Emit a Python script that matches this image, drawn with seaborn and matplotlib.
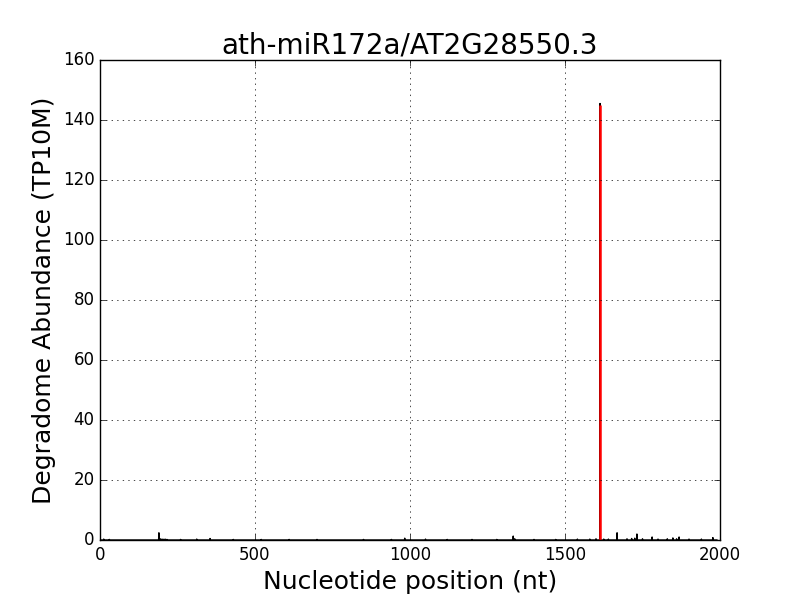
import numpy as np
import pandas as pd
import seaborn as sns
import matplotlib
matplotlib.use("Agg")
import matplotlib.pyplot as plt

# degradome reads along the transcript (positions with reads, TP10M)
transcript_length = 1990
read_positions = [12, 30, 190, 196, 203, 210, 216, 260, 312, 355, 430, 520, 610, 700,
                  850, 940, 983, 1050, 1120, 1200, 1280, 1333, 1338, 1400, 1470, 1540,
                  1580, 1600, 1625, 1640, 1668, 1700, 1715, 1725, 1732, 1750, 1781,
                  1800, 1830, 1848, 1860, 1868, 1900, 1940, 1977]
read_values = [0.3, 0.2, 2.4, 0.4, 0.3, 0.3, 0.2, 0.2, 0.3, 0.5, 0.2, 0.2, 0.2, 0.2,
               0.2, 0.2, 0.6, 0.3, 0.2, 0.2, 0.2, 1.3, 0.4, 0.2, 0.2, 0.3,
               0.3, 0.4, 0.3, 0.3, 2.4, 0.4, 0.5, 0.6, 2.0, 0.4, 1.0,
               0.3, 0.4, 0.7, 0.4, 1.0, 0.3, 0.3, 0.8]

# miRNA cleavage site
site_position = [1613]
site_value = [145.5]

positions = np.arange(1, transcript_length + 1)
abundance = np.zeros(transcript_length)
abundance[np.array(read_positions) - 1] = read_values
abundance[np.array(site_position) - 1] = site_value
df = pd.DataFrame({"pos": positions, "abundance": abundance})

plt.style.use("classic")
fig, ax = plt.subplots(figsize=(8, 6), dpi=100)
fig.patch.set_facecolor("white")

sns.lineplot(data=df, x="pos", y="abundance", color="black", linewidth=1, ax=ax)
ax.vlines(site_position, 0, [v - 0.5 for v in site_value], colors="red", linewidth=1.8)

ax.set_xlim(0, 2000)
ax.set_ylim(0, 160)
ax.grid(True, linestyle=":", color="black")
ax.set_title("ath-miR172a/AT2G28550.3", fontsize=20)
ax.set_xlabel("Nucleotide position (nt)", fontsize=18)
ax.set_ylabel("Degradome Abundance (TP10M)", fontsize=18)

plt.savefig("out.png", dpi=100, facecolor="white")
